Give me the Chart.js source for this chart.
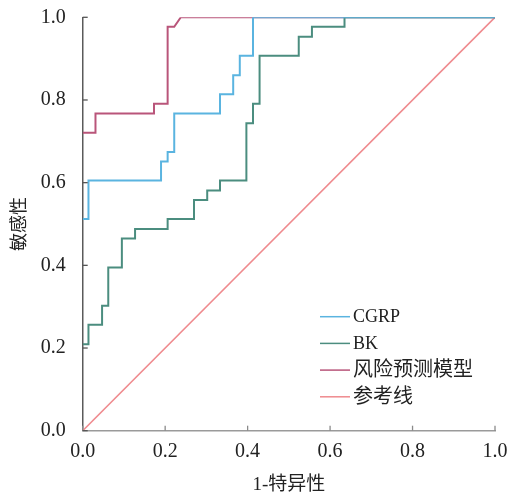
<!DOCTYPE html>
<html>
<head>
<meta charset="utf-8">
<script src="https://cdn.jsdelivr.net/npm/chart.js@4/dist/chart.umd.min.js"></script>
<style>
  html, body { margin: 0; padding: 0; background: #fff; }
  #wrap { width: 511px; height: 498px; }
</style>
</head>
<body>
<div id="wrap"><canvas id="roc"></canvas></div>
<script>
// ROC coordinates (1-特异性 / 敏感性)
const cgrpFpr = [0, 0.014, 0.014, 0.190, 0.190, 0.206, 0.206, 0.222, 0.222, 0.333, 0.333, 0.365, 0.365, 0.381, 0.381, 0.413, 0.413, 1.0];
const cgrpTpr = [0.512, 0.512, 0.605, 0.605, 0.651, 0.651, 0.674, 0.674, 0.767, 0.767, 0.814, 0.814, 0.860, 0.860, 0.907, 0.907, 1.0, 1.0];

const bkFpr = [0, 0.014, 0.014, 0.047, 0.047, 0.062, 0.062, 0.095, 0.095, 0.127, 0.127, 0.206, 0.206, 0.270, 0.270, 0.302, 0.302, 0.333, 0.333, 0.397, 0.397, 0.413, 0.413, 0.429, 0.429, 0.524, 0.524, 0.556, 0.556, 0.635, 0.635, 1.0];
const bkTpr = [0.209, 0.209, 0.256, 0.256, 0.302, 0.302, 0.395, 0.395, 0.465, 0.465, 0.488, 0.488, 0.512, 0.512, 0.558, 0.558, 0.581, 0.581, 0.605, 0.605, 0.744, 0.744, 0.791, 0.791, 0.907, 0.907, 0.953, 0.953, 0.977, 0.977, 1.0, 1.0];

const modelFpr = [0, 0.031, 0.031, 0.173, 0.173, 0.206, 0.206, 0.222, 0.238, 1.0];
const modelTpr = [0.721, 0.721, 0.767, 0.767, 0.791, 0.791, 0.977, 0.977, 1.0, 1.0];

const refFpr = [0, 1];
const refTpr = [0, 1];

const seriesNames = ['CGRP', 'BK', '风险预测模型', '参考线'];
const tickValues = [0, 0.2, 0.4, 0.6, 0.8, 1.0];

function toPoints(xs, ys) {
  return xs.map((x, i) => ({ x: x, y: ys[i] }));
}

const serif = '"Liberation Serif", "Noto Sans CJK SC", serif';

// tick marks pointing into the plot
const innerTicks = {
  id: 'innerTicks',
  afterDraw(chart) {
    const ctx = chart.ctx;
    const a = chart.chartArea;
    const xs = chart.scales.x, ys = chart.scales.y;
    ctx.save();
    ctx.lineWidth = 1.3;
    ctx.strokeStyle = '#8a8a8a';
    tickValues.forEach(v => {
      const px = xs.getPixelForValue(v);
      ctx.beginPath(); ctx.moveTo(px, a.bottom); ctx.lineTo(px, a.bottom - 5); ctx.stroke();
    });
    ctx.strokeStyle = '#555';
    tickValues.forEach(v => {
      const py = ys.getPixelForValue(v);
      ctx.beginPath(); ctx.moveTo(a.left, py); ctx.lineTo(a.left + 5, py); ctx.stroke();
    });
    ctx.restore();
  }
};

// legend in the lower right of the plot
const cornerLegend = {
  id: 'cornerLegend',
  afterDraw(chart) {
    const ctx = chart.ctx;
    const a = chart.chartArea;
    ctx.save();
    ctx.textBaseline = 'middle';
    ctx.fillStyle = '#222';
    chart.data.datasets.forEach((ds, i) => {
      const y = a.bottom - 114 + i * 26.7;
      const x0 = a.right - 175;
      ctx.strokeStyle = ds.borderColor;
      ctx.lineWidth = 1.5;
      ctx.beginPath(); ctx.moveTo(x0, y); ctx.lineTo(x0 + 30, y); ctx.stroke();
      // latin labels in serif, chinese ones a bit wider
      ctx.font = (/^[\x00-\x7f]*$/.test(ds.label) ? '18px ' : '20px ') + serif;
      ctx.fillText(ds.label, x0 + 33, y + 1);
    });
    ctx.restore();
  }
};

new Chart(document.getElementById('roc'), {
  type: 'line',
  data: {
    datasets: [
      { label: seriesNames[0], data: toPoints(cgrpFpr, cgrpTpr), borderColor: '#5ab4e0', borderWidth: 2 },
      { label: seriesNames[1], data: toPoints(bkFpr, bkTpr), borderColor: '#4b8d7f', borderWidth: 2 },
      { label: seriesNames[2], data: toPoints(modelFpr, modelTpr), borderColor: '#b9557a', borderWidth: 2 },
      { label: seriesNames[3], data: toPoints(refFpr, refTpr), borderColor: '#ef8a8e', borderWidth: 1.6 }
    ]
  },
  options: {
    responsive: true,
    maintainAspectRatio: false,
    animation: false,
    elements: { point: { radius: 0 }, line: { tension: 0, fill: false } },
    layout: { padding: { top: 17.3, right: 16, left: 0, bottom: 0 } },
    plugins: { legend: { display: false }, tooltip: { enabled: false } },
    scales: {
      x: {
        type: 'linear',
        min: 0, max: 1,
        afterFit(s) { s.height = 67.3; s.paddingLeft = 0; s.paddingRight = 0; },
        afterBuildTicks(s) { s.ticks = tickValues.map(v => ({ value: v })); },
        grid: { display: false },
        border: { display: true, color: '#9a9a9a', width: 1.5 },
        ticks: {
          padding: 1,
          color: '#222',
          font: { family: serif, size: 20 },
          callback: v => v.toFixed(1)
        },
        title: {
          display: true,
          text: '1-特异性',
          color: '#222',
          font: { family: serif, size: 19 },
          padding: { top: 0, bottom: 2 }
        }
      },
      y: {
        type: 'linear',
        min: 0, max: 1,
        afterFit(s) { s.width = 82.7; s.paddingTop = 0; s.paddingBottom = 0; },
        afterBuildTicks(s) { s.ticks = tickValues.map(v => ({ value: v })); },
        grid: { display: false },
        border: { display: true, color: '#5a5a5a', width: 1.5 },
        ticks: {
          padding: 9,
          color: '#222',
          font: { family: serif, size: 20 },
          callback: v => v.toFixed(1)
        },
        title: {
          display: true,
          text: '敏感性',
          color: '#222',
          font: { family: serif, size: 18 },
          padding: { top: 9, bottom: 0 }
        }
      }
    }
  },
  plugins: [innerTicks, cornerLegend]
});
</script>
</body>
</html>
